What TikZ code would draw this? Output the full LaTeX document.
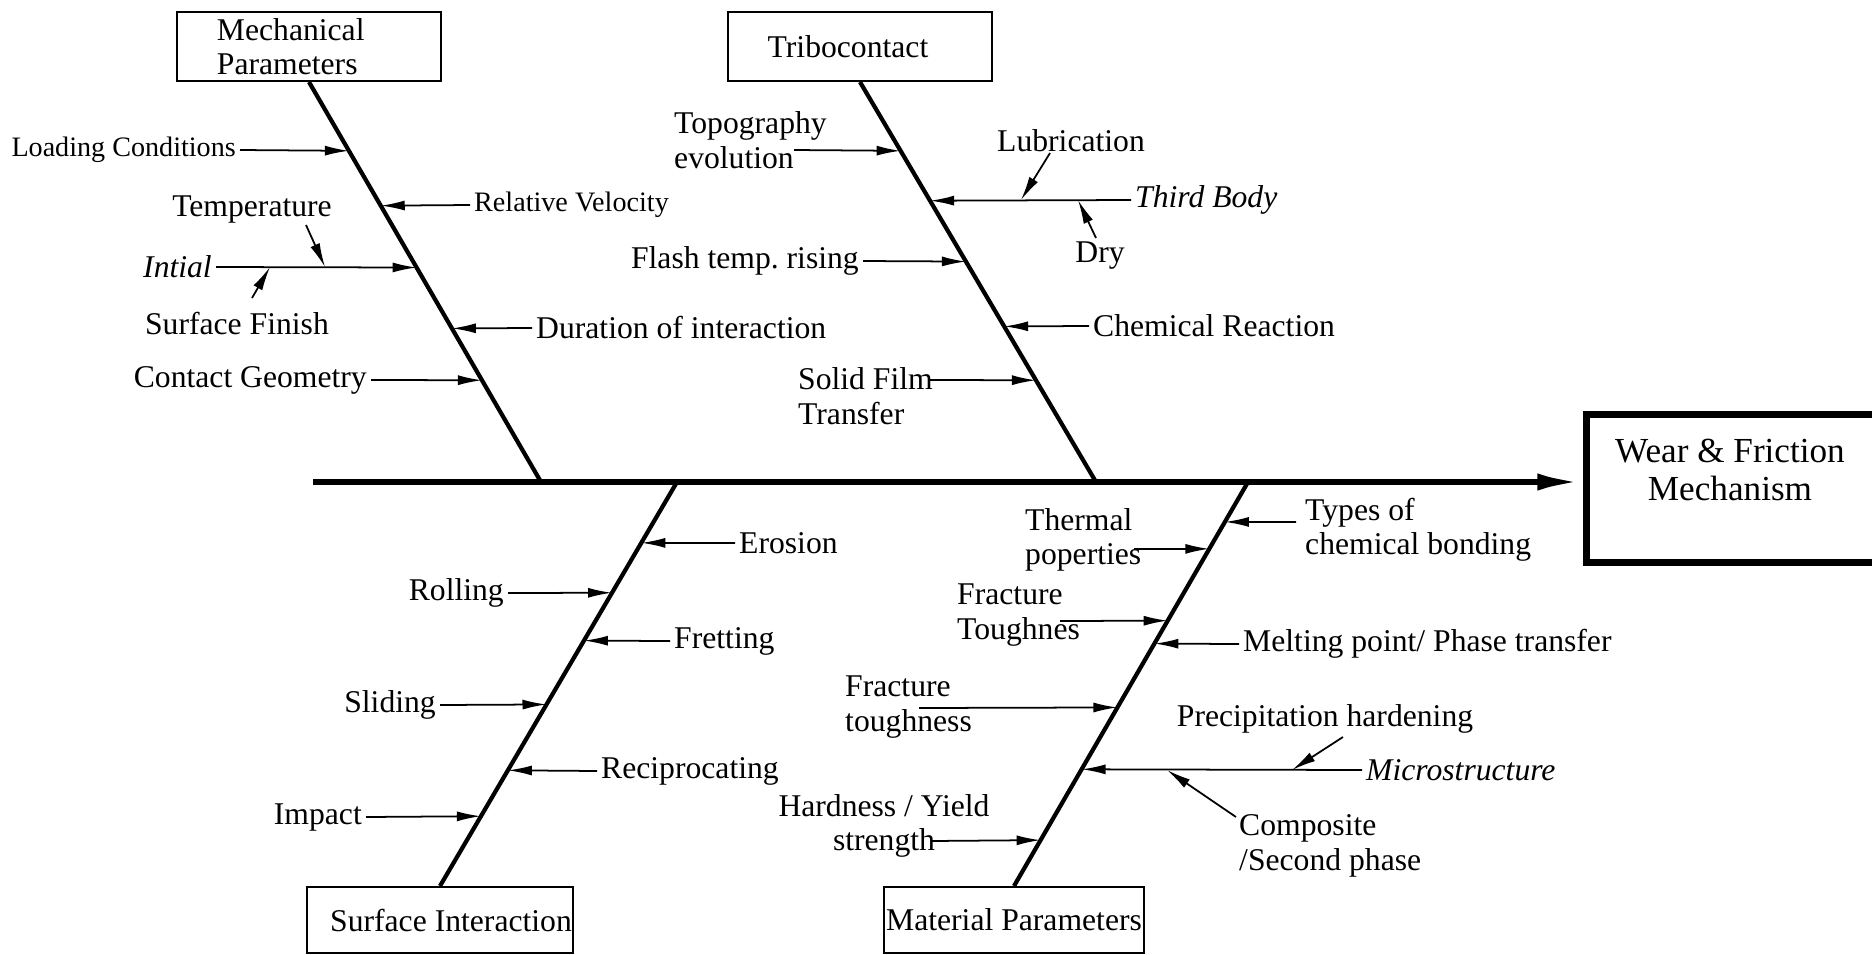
\documentclass[tikz,border=0pt]{standalone}
\usepackage{fontspec}
\setmainfont{Liberation Serif}
\usetikzlibrary{arrows.meta}

\begin{document}
\begin{tikzpicture}[x=0.01cm, y=-0.01cm,
  catbox/.style={draw, line width=0.55pt, minimum width=2.64cm, minimum height=0.69cm, inner sep=0pt, font=\fontsize{9}{9.6}\selectfont},
  wear/.style={draw, line width=2pt, minimum width=2.94cm, minimum height=1.47cm},
  lbl/.style={inner sep=1pt, font=\fontsize{9}{9.8}\selectfont},
  lblsmall/.style={inner sep=1pt, font=\fontsize{8}{9}\selectfont},
  spine/.style={line width=1.9pt, -{Latex[length=4.6mm, width=1.7mm]}},
  bone/.style={line width=1.2pt},
  arr/.style={line width=0.5pt, -{Latex[length=2.4mm, width=1mm]}}]
\useasboundingbox (0,0) rectangle (1872,954);
\node[catbox, align=left, text width=1.84cm] (mp) at (309,46.5) {Mechanical\\Parameters};
\node[catbox] (tp) at (860,46.5) {Tribocontact\hspace*{0.24cm}};
\node[catbox, minimum width=2.65cm, minimum height=0.66cm] (si) at (440,920) {\hspace*{0.22cm}Surface Interaction};
\node[catbox, minimum width=2.6cm, minimum height=0.66cm] (mat) at (1014,920) {Material Parameters};
\node[wear] (wf) at (1734,488.5) {};
\node[font=\fontsize{10}{10.8}\selectfont, align=center] (wft) at (1730,470) {Wear \& Friction\\Mechanism};

\coordinate (sp) at (313,482);
\coordinate (mj) at (541,482);
\coordinate (tj) at (1096,482);
\coordinate (sj) at (677,482);
\coordinate (aj) at (1248,482);
\draw[spine] (sp) -- (sp -| wf.west);
\draw[bone] (mp.south) -- (mj);
\draw[bone] (tp.south) -- (tj);
\draw[bone] (sj) -- (si.north);
\draw[bone] (aj) -- (mat.north);

\path (mp.south) -- (mj) coordinate[pos=.1721] (m1) coordinate[pos=.3092] (m2) coordinate[pos=.4638] (m3) coordinate[pos=.616] (m4) coordinate[pos=.7456] (m5);
\path (tp.south) -- (tj) coordinate[pos=.1721] (t1) coordinate[pos=.2968] (t2) coordinate[pos=.4489] (t3) coordinate[pos=.611] (t4) coordinate[pos=.7456] (t5);
\path (sj) -- (si.north) coordinate[pos=.1506] (s1) coordinate[pos=.2741] (s2) coordinate[pos=.3926] (s3) coordinate[pos=.5506] (s4) coordinate[pos=.7136] (s5) coordinate[pos=.8272] (s6);
\path (aj) -- (mat.north) coordinate[pos=.0988] (a1) coordinate[pos=.1654] (a2) coordinate[pos=.3432] (a3) coordinate[pos=.4] (a4) coordinate[pos=.558] (a5) coordinate[pos=.7111] (a6) coordinate[pos=.8864] (a7);

\node[lblsmall, anchor=east] (lc) at (240,150) {Loading Conditions};
\node[lblsmall, anchor=west] (rv) at (470,205) {Relative Velocity};
\node[lbl] (tmp) at (252,210) {Temperature};
\node[lbl, anchor=east, font=\fontsize{9}{9.8}\itshape] (in) at (216,267) {Intial};
\node[lbl] (sf) at (237,324) {Surface Finish};
\node[lbl, anchor=west] (dur) at (532,328) {Duration of interaction};
\node[lbl, anchor=east] (cg) at (371,380) {Contact Geometry};
\coordinate (tempA) at (306,225);
\coordinate (tempB) at (325,267);
\coordinate (surfA) at (252,298);
\coordinate (surfB) at (270,267);
\draw[arr] (lc.east) -- (m1);
\draw[arr] (rv.west) -- (m2);
\draw[arr] (in.east) -- (m3);
\draw[arr] (dur.west) -- (m4);
\draw[arr] (cg.east) -- (m5);
\draw[arr] (tempA) -- (tempB);
\draw[arr] (surfA) -- (surfB);

\node[lbl, anchor=west, align=left] (topo) at (670,140) {Topography\\evolution};
\node[lbl] (lub) at (1071,141) {Lubrication};
\node[lbl, anchor=west, font=\fontsize{9}{9.8}\itshape] (tb) at (1131,200) {Third Body};
\node[lbl] (dry) at (1100,256) {Dry};
\node[lbl, anchor=east] (flash) at (863,261) {Flash temp.\ rising};
\node[lbl, anchor=west] (chem) at (1089,326) {Chemical Reaction};
\node[lbl, anchor=west, align=left] (sfilm) at (794,396) {Solid Film\\Transfer};
\coordinate (topoA) at (794,150);
\coordinate (sfilmA) at (929,380);
\coordinate (lubA) at (1050,153);
\coordinate (lubB) at (1021,200);
\coordinate (dryA) at (1096,238);
\coordinate (dryB) at (1078,200);
\draw[arr] (topoA) -- (t1);
\draw[arr] (tb.west) -- (t2);
\draw[arr] (flash.east) -- (t3);
\draw[arr] (chem.west) -- (t4);
\draw[arr] (sfilmA) -- (t5);
\draw[arr] (lubA) -- (lubB);
\draw[arr] (dryA) -- (dryB);

\node[lbl, anchor=west] (ero) at (735,543) {Erosion};
\node[lbl, anchor=east] (rol) at (508,593) {Rolling};
\node[lbl, anchor=west] (fre) at (670,641) {Fretting};
\node[lbl, anchor=east] (sli) at (440,705) {Sliding};
\node[lbl, anchor=west] (rec) at (597,771) {Reciprocating};
\node[lbl, anchor=east] (imp) at (366,817) {Impact};
\draw[arr] (ero.west) -- (s1);
\draw[arr] (rol.east) -- (s2);
\draw[arr] (fre.west) -- (s3);
\draw[arr] (sli.east) -- (s4);
\draw[arr] (rec.west) -- (s5);
\draw[arr] (imp.east) -- (s6);

\node[lbl, anchor=west, align=left] (typ) at (1301,530) {Types of\\chemical bonding};
\node[lbl, anchor=west, align=left] (the) at (1021,540) {Thermal\\poperties};
\node[lbl, anchor=west, align=left] (ftg) at (953,615) {Fracture\\Toughnes};
\node[lbl, anchor=west] (mel) at (1239,644) {Melting point/ Phase transfer};
\node[lbl, anchor=west, align=left] (ftn) at (841,707) {Fracture\\toughness};
\node[lbl] (pre) at (1325,719) {Precipitation hardening};
\node[lbl, anchor=west, font=\fontsize{9}{9.8}\itshape] (mic) at (1362,770) {Microstructure};
\node[lbl, anchor=west, align=left] (com) at (1235,846) {Composite\\/Second phase};
\node[lbl, align=center] (har) at (884,826) {Hardness / Yield\\strength};
\coordinate (typA) at (1296,522);
\coordinate (theA) at (1134,549);
\coordinate (ftgA) at (1060,621);
\coordinate (ftnA) at (919,708);
\coordinate (harA) at (931,841);
\coordinate (preA) at (1343,737);
\coordinate (preB) at (1292,770);
\coordinate (comA) at (1236,817);
\coordinate (comB) at (1167,770);
\draw[arr] (typA) -- (a1);
\draw[arr] (theA) -- (a2);
\draw[arr] (ftgA) -- (a3);
\draw[arr] (mel.west) -- (a4);
\draw[arr] (ftnA) -- (a5);
\draw[arr] (mic.west) -- (a6);
\draw[arr] (harA) -- (a7);
\draw[arr] (preA) -- (preB);
\draw[arr] (comA) -- (comB);
\end{tikzpicture}
\end{document}
